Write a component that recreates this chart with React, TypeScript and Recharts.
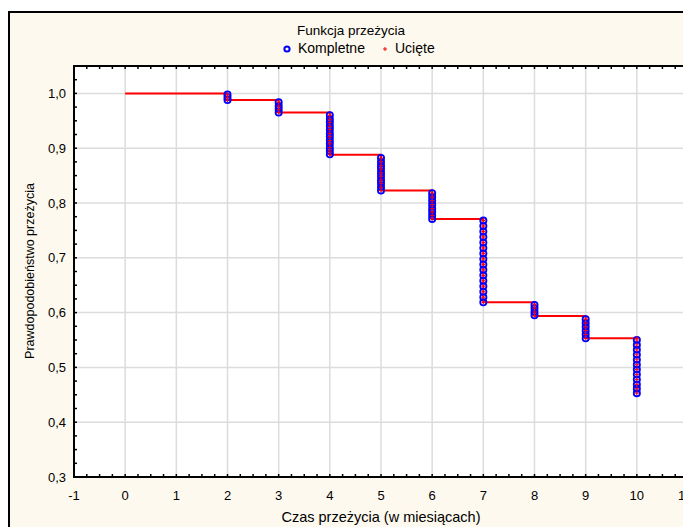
import {
  CartesianGrid,
  ComposedChart,
  Line,
  ReferenceArea,
  Scatter,
  XAxis,
  YAxis,
} from "recharts";

const FONT = '"Liberation Sans", Arial, sans-serif';
const CREAM = "#fdf9ee";

// step curve of the survival estimate
const stepTimes = [0, 2, 3, 4, 5, 6, 7, 8, 9, 10];
const stepSurvival = [1.0, 0.988, 0.965, 0.888, 0.823, 0.771, 0.619, 0.594, 0.553, 0.553];

const eventTimes = [2, 3, 4, 5, 6, 7, 8, 9, 10];
const eventSurvival = [
  [0.998, 0.993, 0.988],
  [0.984, 0.977, 0.971, 0.965],
  [0.96, 0.953, 0.947, 0.94, 0.934, 0.927, 0.921, 0.914, 0.908, 0.901, 0.895, 0.889],
  [0.882, 0.875, 0.868, 0.862, 0.855, 0.849, 0.842, 0.836, 0.829, 0.823],
  [0.818, 0.811, 0.804, 0.797, 0.79, 0.784, 0.777, 0.771],
  [0.768, 0.758, 0.748, 0.738, 0.728, 0.718, 0.708, 0.698, 0.688, 0.678, 0.668, 0.658, 0.648, 0.638, 0.628, 0.619],
  [0.614, 0.608, 0.601, 0.595],
  [0.588, 0.581, 0.574, 0.567, 0.56, 0.553],
  [0.55, 0.541, 0.532, 0.523, 0.514, 0.505, 0.496, 0.487, 0.478, 0.469, 0.461, 0.453],
];

// censored marks (Ucięte) sit on the same spots, plus the last one at the curve end
const censoredExtra = [{ x: 10, y: 0.553 }];

const xTicks = [-1, 0, 1, 2, 3, 4, 5, 6, 7, 8, 9, 10, 11];
const yTicks = [0.3, 0.4, 0.5, 0.6, 0.7, 0.8, 0.9, 1.0];
const X_DOMAIN: [number, number] = [-1, 11];
const Y_DOMAIN: [number, number] = [0.3, 1.05];

const curve = stepTimes.map((x, i) => ({ x, y: stepSurvival[i] }));
const complete = eventTimes.flatMap((x, i) => eventSurvival[i].map((y) => ({ x, y })));
const censored = [...complete, ...censoredExtra];

// minor tick marks drawn inward on all four sides
const xMinor = Array.from({ length: 49 }, (_, i) => -1 + i * 0.25);
const yMinor = Array.from({ length: 31 }, (_, i) => +(0.3 + i * 0.025).toFixed(3));
const bottomTicks = xMinor.map((x) => ({ x, y: Y_DOMAIN[0] }));
const topTicks = xMinor.map((x) => ({ x, y: Y_DOMAIN[1] }));
const leftTicks = yMinor.map((y) => ({ x: X_DOMAIN[0], y }));
const rightTicks = yMinor.map((y) => ({ x: X_DOMAIN[1], y }));

const tickShape = (dx: number, dy: number) => (p: any) => (
  <line x1={p.cx} y1={p.cy} x2={p.cx + dx} y2={p.cy + dy} stroke="#000" strokeWidth={1.5} />
);

const Circle = (p: any) => (
  <circle cx={p.cx} cy={p.cy} r={3.1} fill="none" stroke="#0000ff" strokeWidth={1.8} />
);

const Plus = (p: any) => (
  <g stroke="#ff0000" strokeWidth={1}>
    <line x1={p.cx - 2} y1={p.cy} x2={p.cx + 2} y2={p.cy} />
    <line x1={p.cx} y1={p.cy - 2} x2={p.cx} y2={p.cy + 2} />
  </g>
);

const tickStyle = { fill: "#000", fontSize: 13, fontFamily: FONT };

export default function App() {
  return (
    <div style={{ position: "relative", width: 683, height: 519, overflow: "hidden", fontFamily: FONT }}>
      <div
        style={{
          position: "absolute",
          left: 0,
          top: 3,
          width: 720,
          height: 560,
          border: "2px solid #000",
          boxSizing: "border-box",
          background: CREAM,
        }}
      />
      <div style={{ position: "absolute", left: 0, top: 15, width: 686, textAlign: "center", fontSize: 13.5 }}>
        Funkcja przeżycia
      </div>

      {/* legend */}
      <svg style={{ position: "absolute", left: 274, top: 36 }} width={10} height={10}>
        <circle cx={5} cy={5} r={2.6} fill="none" stroke="#0000ff" strokeWidth={2} />
      </svg>
      <div style={{ position: "absolute", left: 290, top: 32, fontSize: 14, whiteSpace: "nowrap" }}>
        Kompletne
      </div>
      <svg style={{ position: "absolute", left: 372, top: 36 }} width={10} height={10}>
        <g stroke="#ff0000" strokeWidth={1}>
          <line x1={3} y1={5} x2={7} y2={5} />
          <line x1={5} y1={3} x2={5} y2={7} />
        </g>
      </svg>
      <div style={{ position: "absolute", left: 387, top: 32, fontSize: 14, whiteSpace: "nowrap" }}>
        Ucięte
      </div>

      <div style={{ position: "absolute", left: 0, top: 0 }}>
        <ComposedChart width={683} height={519} margin={{ top: 58, right: 3, left: 0, bottom: 0 }}>
          <CartesianGrid fill="#ffffff" stroke="#dcdcdc" strokeWidth={1.5} />
          <XAxis
            type="number"
            dataKey="x"
            domain={X_DOMAIN}
            ticks={xTicks}
            allowDataOverflow
            tick={tickStyle}
            tickLine={false}
            axisLine={false}
            tickSize={0}
            tickMargin={14}
            height={50}
          />
          <YAxis
            type="number"
            dataKey="y"
            domain={Y_DOMAIN}
            ticks={yTicks}
            allowDataOverflow
            tick={tickStyle}
            tickLine={false}
            axisLine={false}
            tickSize={0}
            tickMargin={8}
            width={66}
            tickFormatter={(v: number) => v.toFixed(1).replace(".", ",")}
          />
          <Line
            data={curve}
            dataKey="y"
            type="stepAfter"
            stroke="#ff0000"
            strokeWidth={2}
            dot={false}
            activeDot={false}
            isAnimationActive={false}
          />
          <Scatter data={complete} dataKey="y" shape={Circle} isAnimationActive={false} />
          <Scatter data={censored} dataKey="y" shape={Plus} isAnimationActive={false} />
          <ReferenceArea
            x1={X_DOMAIN[0]}
            x2={X_DOMAIN[1]}
            y1={Y_DOMAIN[0]}
            y2={Y_DOMAIN[1]}
            fill="none"
            fillOpacity={0}
            stroke="#000"
            strokeWidth={2}
          />
          <Scatter data={bottomTicks} dataKey="y" shape={tickShape(0, -3)} isAnimationActive={false} />
          <Scatter data={topTicks} dataKey="y" shape={tickShape(0, 3)} isAnimationActive={false} />
          <Scatter data={leftTicks} dataKey="y" shape={tickShape(3, 0)} isAnimationActive={false} />
          <Scatter data={rightTicks} dataKey="y" shape={tickShape(-3, 0)} isAnimationActive={false} />
        </ComposedChart>
      </div>

      <div
        style={{
          position: "absolute",
          left: 22,
          top: 263,
          transform: "translate(-50%, -50%) rotate(-90deg)",
          whiteSpace: "nowrap",
          fontSize: 12.5,
        }}
      >
        Prawdopodobieństwo przeżycia
      </div>
      <div
        style={{
          position: "absolute",
          left: 373,
          top: 509,
          transform: "translate(-50%, -50%)",
          whiteSpace: "nowrap",
          fontSize: 14.5,
        }}
      >
        Czas przeżycia (w miesiącach)
      </div>
    </div>
  );
}
